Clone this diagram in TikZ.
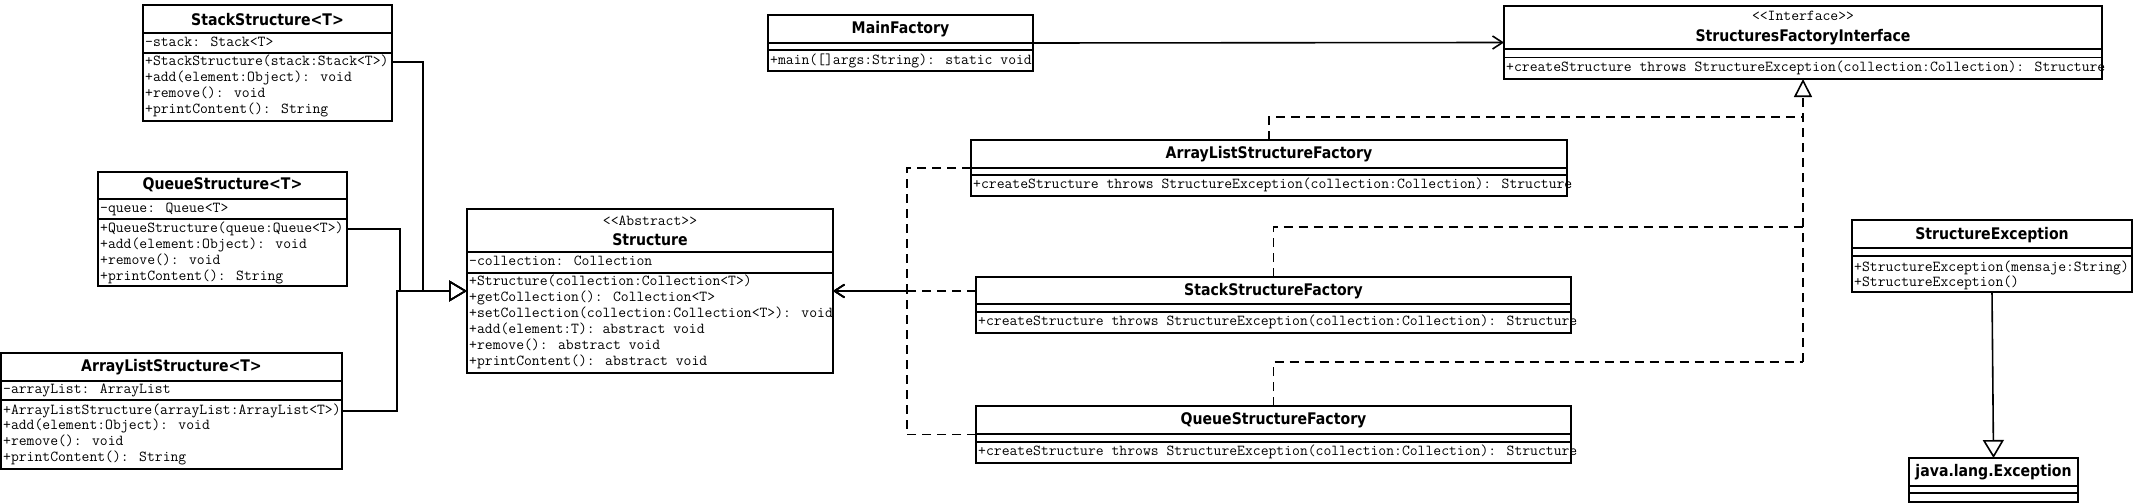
\documentclass[tikz,border=0pt]{standalone}
\usepackage{fontspec}
\usetikzlibrary{arrows.meta}
\newfontfamily\myhdrfam[FakeStretch=0.88]{DejaVu Sans}
\newcommand\myhdr{\myhdrfam\bfseries\fontsize{16}{18}\selectfont}
\newcommand\mymono{\ttfamily\fontsize{15.24}{16}\selectfont}
\tikzset{
  box/.style={draw, line width=1.6pt, rectangle, inner sep=0pt, outer sep=0pt, anchor=north west},
  sepl/.style={line width=1.6pt},
  hdr/.style={font=\myhdr, inner sep=0pt},
  mono/.style={font=\mymono, inner sep=0pt, anchor=west, text height=9pt, text depth=2.5pt},
  stereo/.style={font=\mymono, inner sep=0pt, text height=9pt, text depth=2.5pt},
  gen/.style={line width=1.6pt, -{Triangle[open, length=18pt, width=21pt]}},
  dashedline/.style={line width=1.6pt, dash pattern=on 9pt off 6pt},
  realize/.style={dashedline, -{Triangle[open, length=18pt, width=18pt]}},
  dep/.style={dashedline, -{Straight Barb[length=10pt, width=13pt]}},
  assoc/.style={line width=1.6pt, -{Straight Barb[length=10pt, width=13pt]}},
}
\begin{document}
\begin{tikzpicture}[x=1pt,y=-1pt]
\fill[white] (0,0) rectangle (2133,503);
\useasboundingbox (0,0) rectangle (2133,503);

% StackStructure<T>
\node[box, minimum width=249pt, minimum height=116pt] (stack) at (143,5) {};
\draw[sepl] (143,33) -- (392,33);
\draw[sepl] (143,53) -- (392,53);
\node[hdr] (sh) at (267.5,20) {StackStructure<T>};
\node[mono] (sa1) at (145,43) {-stack: Stack<T>};
\node[mono] (sm1) at (145,62) {+StackStructure(stack:Stack<T>)};
\node[mono] (sm2) at (145,78) {+add(element:Object): void};
\node[mono] (sm3) at (145,94) {+remove(): void};
\node[mono] (sm4) at (145,110) {+printContent(): String};

% QueueStructure<T>
\node[box, minimum width=249pt, minimum height=114pt] (queue) at (98,172) {};
\draw[sepl] (98,199) -- (347,199);
\draw[sepl] (98,219) -- (347,219);
\node[hdr] (qh) at (222.5,185) {QueueStructure<T>};
\node[mono] (qa1) at (100,209) {-queue: Queue<T>};
\node[mono] (qm1) at (100,229) {+QueueStructure(queue:Queue<T>)};
\node[mono] (qm2) at (100,245) {+add(element:Object): void};
\node[mono] (qm3) at (100,261) {+remove(): void};
\node[mono] (qm4) at (100,277) {+printContent(): String};

% ArrayListStructure<T>
\node[box, minimum width=341pt, minimum height=116pt] (alist) at (1,353) {};
\draw[sepl] (1,381) -- (342,381);
\draw[sepl] (1,400) -- (342,400);
\node[hdr] (ah) at (171.5,367) {ArrayListStructure<T>};
\node[mono] (aa1) at (3,390) {-arrayList: ArrayList};
\node[mono] (am1) at (3,411) {+ArrayListStructure(arrayList:ArrayList<T>)};
\node[mono] (am2) at (3,426) {+add(element:Object): void};
\node[mono] (am3) at (3,442) {+remove(): void};
\node[mono] (am4) at (3,458) {+printContent(): String};

% Structure
\node[box, minimum width=366pt, minimum height=164pt] (st) at (467,209) {};
\draw[sepl] (467,252) -- (833,252);
\draw[sepl] (467,273) -- (833,273);
\node[stereo] (sts) at (650,222) {<<Abstract>>};
\node[hdr] (stn) at (650,240) {Structure};
\node[mono] (sta1) at (469,262) {-collection: Collection};
\node[mono] (stm1) at (469,282) {+Structure(collection:Collection<T>)};
\node[mono] (stm2) at (469,298) {+getCollection(): Collection<T>};
\node[mono] (stm3) at (469,314) {+setCollection(collection:Collection<T>): void};
\node[mono] (stm4) at (469,330) {+add(element:T): abstract void};
\node[mono] (stm5) at (469,346) {+remove(): abstract void};
\node[mono] (stm6) at (469,362) {+printContent(): abstract void};

% MainFactory
\node[box, minimum width=265pt, minimum height=56pt] (mf) at (768,15) {};
\draw[sepl] (768,43) -- (1033,43);
\draw[sepl] (768,50) -- (1033,50);
\node[hdr] (mfn) at (900.5,29.5) {MainFactory};
\node[mono] (mfm1) at (770,61) {+main([]args:String): static void};

% StructuresFactoryInterface
\node[box, minimum width=598pt, minimum height=73pt] (sfi) at (1504,6) {};
\draw[sepl] (1504,49) -- (2102,49);
\draw[sepl] (1504,57.5) -- (2102,57.5);
\node[stereo] (sfis) at (1803,17) {<<Interface>>};
\node[hdr] (sfin) at (1803,37.5) {StructuresFactoryInterface};
\node[mono] (sfim1) at (1506,68) {+createStructure throws StructureException(collection:Collection): Structure};

% ArrayListStructureFactory
\node[box, minimum width=596pt, minimum height=56pt] (alf) at (971,140) {};
\draw[sepl] (971,168) -- (1567,168);
\draw[sepl] (971,175) -- (1567,175);
\node[hdr] (alfn) at (1269,154) {ArrayListStructureFactory};
\node[mono] (alfm1) at (973,185.5) {+createStructure throws StructureException(collection:Collection): Structure};

% StackStructureFactory
\node[box, minimum width=595pt, minimum height=56pt] (sf) at (976,277) {};
\draw[sepl] (976,304) -- (1571,304);
\draw[sepl] (976,312) -- (1571,312);
\node[hdr] (sfn) at (1273.5,291) {StackStructureFactory};
\node[mono] (sfm1) at (978,322.5) {+createStructure throws StructureException(collection:Collection): Structure};

% QueueStructureFactory
\node[box, minimum width=595pt, minimum height=57pt] (qf) at (976,406) {};
\draw[sepl] (976,434) -- (1571,434);
\draw[sepl] (976,442) -- (1571,442);
\node[hdr] (qfn) at (1273.5,420.5) {QueueStructureFactory};
\node[mono] (qfm1) at (978,452.5) {+createStructure throws StructureException(collection:Collection): Structure};

% StructureException
\node[box, minimum width=280pt, minimum height=72pt] (se) at (1852,220) {};
\draw[sepl] (1852,248) -- (2132,248);
\draw[sepl] (1852,256) -- (2132,256);
\node[hdr] (sen) at (1992,235) {StructureException};
\node[mono] (sem1) at (1854,268) {+StructureException(mensaje:String)};
\node[mono] (sem2) at (1854,283) {+StructureException()};

% java.lang.Exception
\node[box, minimum width=169pt, minimum height=44pt] (je) at (1909,458) {};
\draw[sepl] (1909,486) -- (2078,486);
\draw[sepl] (1909,493) -- (2078,493);
\node[hdr] (jen) at (1993.5,472) {java.lang.Exception};

% generalization to Structure
\coordinate (g1) at (423,291);
\coordinate (g2) at (400,291);
\coordinate (g3) at (397,291);
\draw[gen] (stack.east |- sm1) -| (g1) -- (st.west);
\draw[gen] (queue.east |- qm1) -| (g2) -- (st.west);
\draw[gen] (alist.east |- am1) -| (g3) -- (st.west);

% dependencies to Structure
\coordinate (dj) at (907,291);
\draw[dep] (alf.west) -| (dj) -- (st.east);
\draw[dep] (qf.west) -| (dj) -- (st.east);
\draw[dep] (sf.west |- st.east) -- (st.east);

% realizations of interface (shared trunk)
\coordinate (t1) at (1803,117);
\coordinate (t2) at (1803,227);
\coordinate (tj) at (1803,362);
\draw[dashedline] (alf.north) -- ++(0,-23) -- (t1);
\draw[dashedline] (sf.north) -- ++(0,-50) -- (t2);
\draw[dashedline] (qf.north) -- ++(0,-44) -- (tj);
\draw[realize] (tj) -- (sfi.south);

% association MainFactory -> interface
\draw[assoc] (mf.east) -- (sfi.west);

% exception inheritance
\draw[gen] (se.south) -- (je.north);
\end{tikzpicture}
\end{document}
